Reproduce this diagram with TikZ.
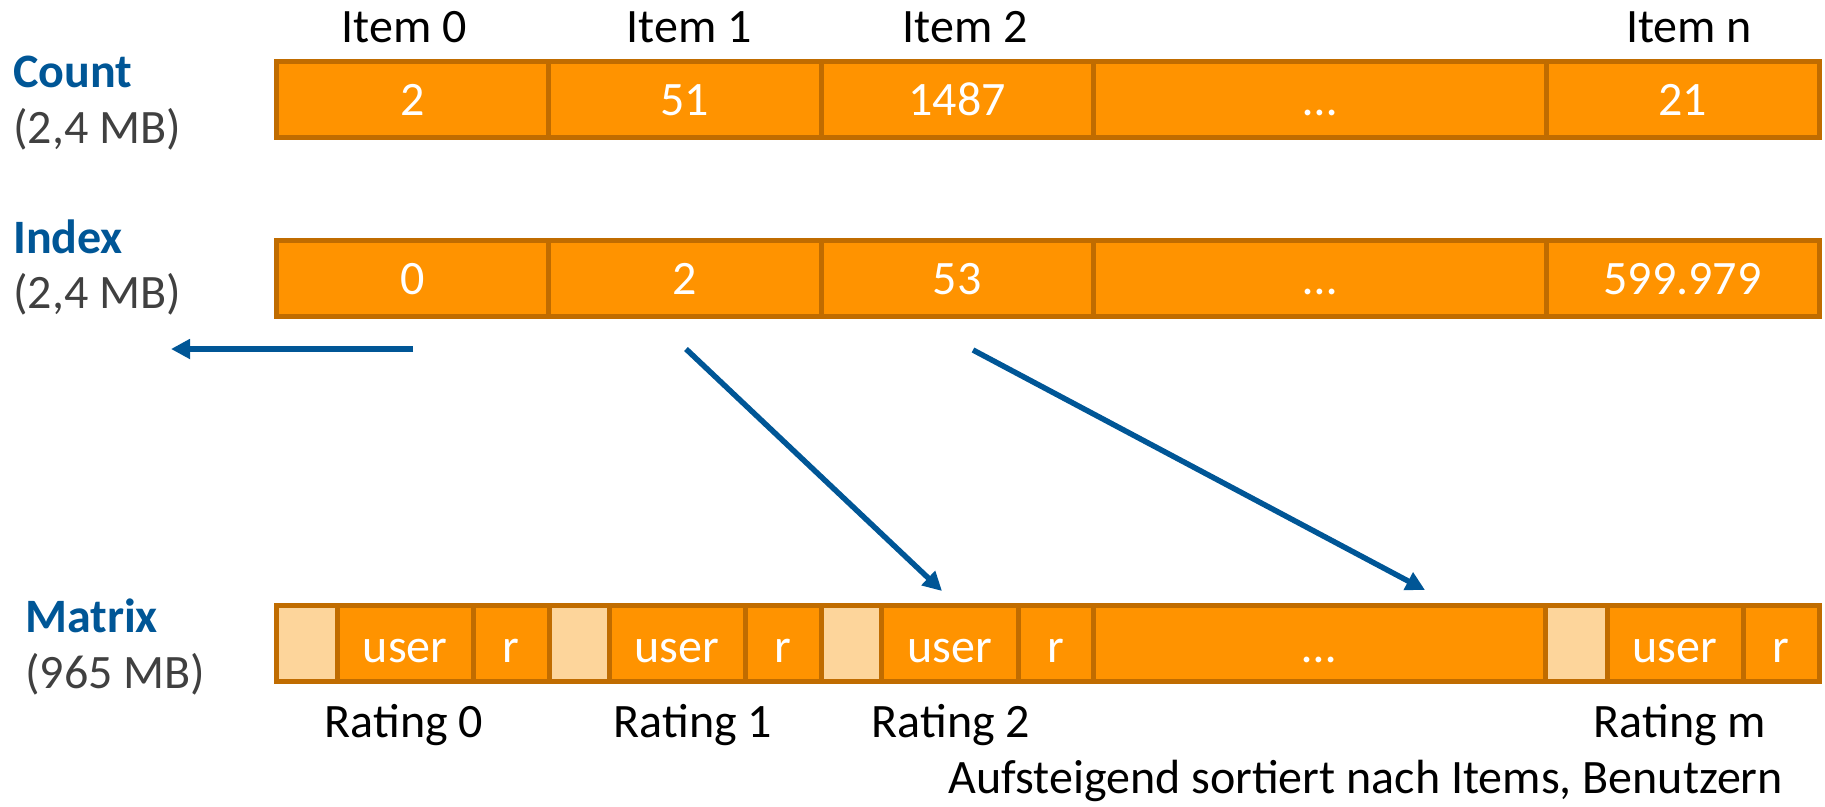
\documentclass[tikz,border=0pt]{standalone}
\usepackage{fontspec}
\setmainfont{Carlito}
\usetikzlibrary{arrows.meta}
\definecolor{org}{RGB}{255,147,0}
\definecolor{bord}{RGB}{192,108,0}
\definecolor{lightorg}{RGB}{253,213,155}
\definecolor{myblue}{RGB}{0,86,150}
\definecolor{mygray}{RGB}{64,64,64}
\newcommand\fs{\fontsize{48}{57}\selectfont}
\newcommand\mycell[6]{\node[#1, minimum width={(#4-#3)*1pt}] (#2) at ({(#3+#4)/2},#5) {#6};}
\tikzset{
  cell/.style={draw=bord, fill=org, line width=5pt, inner sep=0pt, outer sep=0pt,
    minimum height=76pt, text=white, font=\fs, text height=32pt, text depth=0pt},
  mcell/.style={cell, text height=37pt},
  lcell/.style={mcell, fill=lightorg},
  lbl/.style={font=\fs, inner sep=0pt, anchor=base},
  side/.style={font=\fs, inner sep=0pt, anchor=base west},
  arr/.style={myblue, line width=5.5pt, -{Triangle[length=19pt,width=19pt]}}
}
\begin{document}
\begin{tikzpicture}[x=1pt,y=-1pt]
\useasboundingbox (0,0) rectangle (1825,806);
% side labels
\node[side, text=myblue, font=\fs\bfseries] (lcount) at (13,87) {Count};
\node[side, text=mygray] (lcountmb) at (13,143) {(2,4 MB)};
\node[side, text=myblue, font=\fs\bfseries] (lindex) at (13,253) {Index};
\node[side, text=mygray] (lindexmb) at (13,308) {(2,4 MB)};
\node[side, text=myblue, font=\fs\bfseries] (lmatrix) at (25,632) {Matrix};
\node[side, text=mygray] (lmatrixmb) at (25,688) {(965 MB)};
% item labels
\node[lbl] (it0) at (404,42) {Item 0};
\node[lbl] (it1) at (689,42) {Item 1};
\node[lbl] (it2) at (965,42) {Item 2};
\node[lbl] (itn) at (1689,42) {Item n};
% count row
\mycell{cell}{c0}{276.5}{548}{99.5}{2}
\mycell{cell}{c1}{548}{821}{99.5}{51}
\mycell{cell}{c2}{821}{1093.5}{99.5}{1487}
\mycell{cell}{c3}{1093.5}{1546}{99.5}{…}
\mycell{cell}{c4}{1546}{1819}{99.5}{21}
% index row
\mycell{cell}{i0}{276.5}{548}{278.5}{0}
\mycell{cell}{i1}{548}{821}{278.5}{2}
\mycell{cell}{i2}{821}{1093.5}{278.5}{53}
\mycell{cell}{i3}{1093.5}{1546}{278.5}{…}
\mycell{cell}{i4}{1546}{1819}{278.5}{599.979}
% matrix row
\mycell{lcell}{m0a}{276.5}{337.5}{643.5}{}
\mycell{mcell}{m0b}{337.5}{473}{643.5}{user}
\mycell{mcell}{m0c}{473}{549}{643.5}{r}
\mycell{lcell}{m1a}{549}{609}{643.5}{}
\mycell{mcell}{m1b}{609}{745}{643.5}{user}
\mycell{mcell}{m1c}{745}{821}{643.5}{r}
\mycell{lcell}{m2a}{821}{881.5}{643.5}{}
\mycell{mcell}{m2b}{881.5}{1018}{643.5}{user}
\mycell{mcell}{m2c}{1018}{1093.5}{643.5}{r}
\mycell{mcell}{md}{1093.5}{1545.5}{643.5}{…}
\mycell{lcell}{m3a}{1545.5}{1607}{643.5}{}
\mycell{mcell}{m3b}{1607}{1743}{643.5}{user}
\mycell{mcell}{m3c}{1743}{1819}{643.5}{r}
% rating labels
\node[lbl] (r0) at (404,737) {Rating 0};
\node[lbl] (r1) at (693,737) {Rating 1};
\node[lbl] (r2) at (951,737) {Rating 2};
\node[lbl] (rm) at (1680,737) {Rating m};
\node[lbl, anchor=base east] (note) at (1783,793) {Aufsteigend sortiert nach Items, Benutzern};
% arrows
\coordinate (s0) at (413,349);
\coordinate (t0) at (171,349);
\coordinate (s1) at (686,349);
\coordinate (t1) at (942,591);
\coordinate (s2) at (973,350);
\coordinate (t2) at (1425,590);
\draw[arr] (s0) -- (t0);
\draw[arr] (s1) -- (t1);
\draw[arr] (s2) -- (t2);
\end{tikzpicture}
\end{document}
